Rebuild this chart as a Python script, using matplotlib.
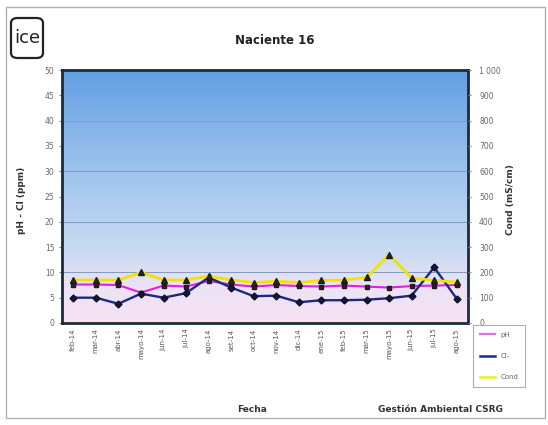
import numpy as np
import matplotlib
matplotlib.use("Agg")
import matplotlib.pyplot as plt
from matplotlib.colors import LinearSegmentedColormap
from matplotlib.lines import Line2D
from matplotlib.patches import Rectangle, FancyBboxPatch

fechas = ["feb-14", "mar-14", "abr-14", "mayo-14", "jun-14", "jul-14", "ago-14",
          "set-14", "oct-14", "nov-14", "dic-14", "ene-15", "feb-15", "mar-15",
          "mayo-15", "jun-15", "jul-15", "ago-15"]
ph = [7.6, 7.6, 7.5, 6.0, 7.4, 7.2, 8.3, 7.6, 7.2, 7.5, 7.3, 7.2, 7.4, 7.2, 7.0, 7.3, 7.4, 7.5]
cloruros = [5.0, 5.0, 3.8, 5.8, 5.0, 5.9, 9.0, 7.0, 5.3, 5.4, 4.1, 4.5, 4.5, 4.6, 4.9, 5.4, 11.0, 4.8]
conductividad = [170, 170, 170, 200, 170, 170, 185, 170, 160, 165, 160, 168, 170, 180, 270, 178, 168, 162]

W, H = 548, 425
fig = plt.figure(figsize=(W / 100, H / 100), dpi=100)
fig.patch.set_facecolor("white")

# outer frame of the chart area
fig.add_artist(Rectangle((6 / W, 7 / H), 539 / W, 411 / H, transform=fig.transFigure,
                         fill=False, edgecolor="#b0b0b0", lw=1.0))

ax = fig.add_axes([62 / W, 1 - 323 / H, 406 / W, 253 / H])
x = np.arange(len(fechas))

# gradient background of the plot area
cmap = LinearSegmentedColormap.from_list(
    "fondo", [(0.0, "#f6e2f4"), (0.15, "#ece2f5"), (0.27, "#cadcf3"),
              (0.6, "#9fc4ee"), (1.0, "#629fe3")])
grad = np.linspace(0, 1, 256).reshape(-1, 1)
ax.imshow(grad, aspect="auto", cmap=cmap, origin="lower",
          extent=[-0.5, len(fechas) - 0.5, 0, 50], zorder=0)

for yv in range(10, 50, 10):
    ax.axhline(yv, color="#7f9cc0", lw=0.7, zorder=1)

ax.plot(x, ph, color="#e020e0", lw=1.5, marker="s", ms=3.5,
        mfc="#3a1a3a", mec="#1a1a1a", zorder=4)
ax.plot(x, cloruros, color="#1a2a80", lw=1.7, marker="D", ms=3.5,
        mfc="#101840", mec="#101020", zorder=5)

ax.set_xlim(-0.5, len(fechas) - 0.5)
ax.set_ylim(0, 50)
ax.set_yticks(range(0, 51, 5))
ax.set_xticks(x)
ax.set_xticklabels(fechas, rotation=90, fontsize=5, color="#555555")
ax.tick_params(axis="y", labelsize=5.5, labelcolor="#666666", length=2, color="#888888")
ax.tick_params(axis="x", length=0, pad=4)
for s in ax.spines.values():
    s.set_linewidth(2.0)
    s.set_color("#1e2a3a")

ax2 = ax.twinx()
ax2.plot(x, conductividad, color="#f2e200", lw=2.0, marker="^", ms=4,
         mfc="#2a2a10", mec="#1a1a1a", zorder=3)
ax2.set_ylim(0, 1000)
ax2.set_yticks(range(0, 1001, 100))
ax2.set_yticklabels(["0"] + [str(v) for v in range(100, 1000, 100)] + ["1 000"])
ax2.tick_params(axis="y", labelsize=5.5, labelcolor="#666666", length=2,
                color="#888888", pad=6)
for s in ax2.spines.values():
    s.set_visible(False)

fig.text(275 / W, 1 - 40 / H, "Naciente 16", ha="center", va="center",
         fontsize=8.5, fontweight="bold", color="#222222")
fig.text(22 / W, 1 - 200 / H, "pH - Cl (ppm)", rotation=90, ha="center", va="center",
         fontsize=6.5, fontweight="bold", color="#333333")
fig.text(511 / W, 1 - 200 / H, "Cond (mS/cm)", rotation=90, ha="center", va="center",
         fontsize=6.5, fontweight="bold", color="#333333")
fig.text(252 / W, 1 - 410 / H, "Fecha", ha="center", va="center",
         fontsize=6.5, fontweight="bold", color="#333333")
fig.text(440 / W, 1 - 410 / H, "Gestión Ambiental CSRG", ha="center", va="center",
         fontsize=6.5, fontweight="bold", color="#333333")

# logo
fig.add_artist(FancyBboxPatch((11 / W, 1 - 58 / H), 32 / W, 40 / H,
                              boxstyle="round,pad=0,rounding_size=0.012",
                              transform=fig.transFigure, fill=False,
                              edgecolor="#222222", lw=1.6))
fig.text(27 / W, 1 - 38 / H, "ice", ha="center", va="center", fontsize=13,
         color="#222222", family="DejaVu Sans")

handles = [Line2D([], [], color="#e070e0", lw=1.6),
           Line2D([], [], color="#1a2a80", lw=1.8),
           Line2D([], [], color="#e8f040", lw=2.0)]
leg = fig.legend(handles, ["pH", "Cl-", "Cond"], loc="upper left",
                 bbox_to_anchor=(470 / W, 1 - 322 / H), fontsize=5,
                 frameon=True, fancybox=False, edgecolor="#999999",
                 handlelength=2.2, labelspacing=2.2, borderpad=0.9,
                 labelcolor="#666666")
leg.get_frame().set_linewidth(0.8)

fig.savefig("out.png", dpi=100)
